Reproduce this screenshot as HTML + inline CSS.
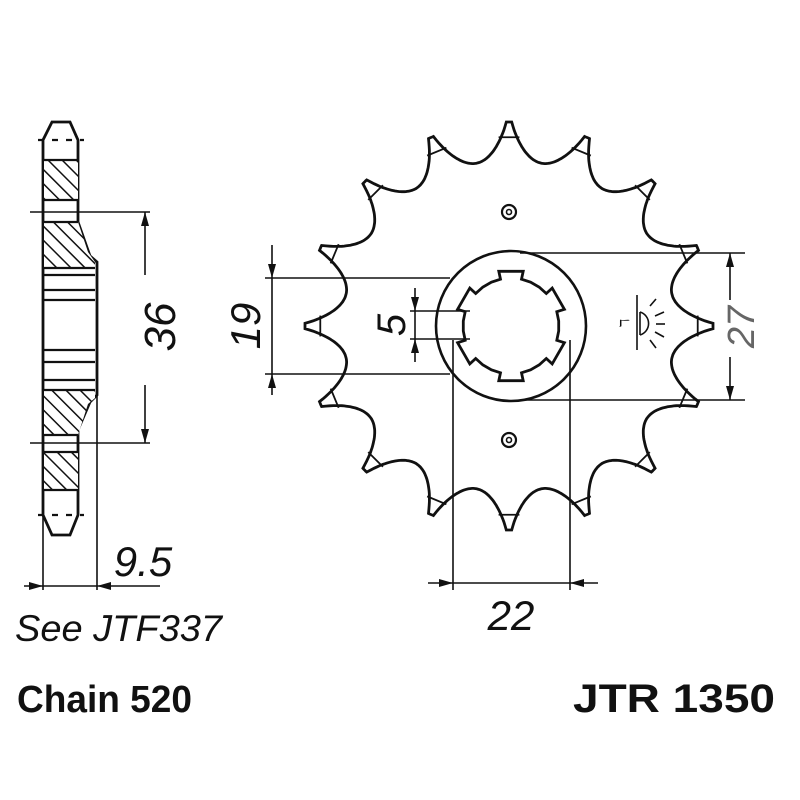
<!DOCTYPE html>
<html><head><meta charset="utf-8"><style>
html,body{margin:0;padding:0;background:#fff}
svg{display:block}
text{font-family:"Liberation Sans",sans-serif}
</style></head><body>
<svg id="s" width="800" height="800" viewBox="0 0 800 800" xmlns="http://www.w3.org/2000/svg">
<defs>
<pattern id="h" width="10" height="10" patternUnits="userSpaceOnUse" patternTransform="rotate(-45)">
<rect width="10" height="10" fill="#fff"/><line x1="0" y1="0" x2="0" y2="10" stroke="#111" stroke-width="3"/></pattern>
</defs>
<g fill="none" stroke="#111" stroke-width="2.2">
<!-- side view -->
<path d="M43 140 L52 122 L70 122 L78 140 L78 222 L90 256 L97 262 L97 395 L90 402 L78 430 L78 515 L70 535 L52 535 L43 515 Z" stroke-width="2.8"/>
<rect x="44" y="160" width="34" height="40" fill="url(#h)" stroke="none"/>
<path d="M44 222 L78 222 L88 252 L95 262 L95 268 L44 268 Z" fill="url(#h)" stroke="none"/>
<path d="M44 390 L95 390 L95 398 L88 404 L78 435 L44 435 Z" fill="url(#h)" stroke="none"/>
<rect x="44" y="452" width="34" height="38" fill="url(#h)" stroke="none"/>
<line x1="44" y1="160" x2="78" y2="160"/><line x1="44" y1="200" x2="78" y2="200"/>
<line x1="44" y1="222" x2="78" y2="222"/><line x1="44" y1="268" x2="95" y2="268"/>
<line x1="44" y1="275" x2="95" y2="275"/><line x1="44" y1="290" x2="95" y2="290"/>
<line x1="44" y1="300" x2="95" y2="300"/><line x1="44" y1="350" x2="95" y2="350"/>
<line x1="44" y1="362" x2="95" y2="362"/><line x1="44" y1="380" x2="95" y2="380"/>
<line x1="44" y1="390" x2="95" y2="390"/><line x1="44" y1="435" x2="78" y2="435"/>
<line x1="44" y1="452" x2="78" y2="452"/><line x1="44" y1="490" x2="78" y2="490"/>
<line x1="38" y1="140" x2="84" y2="140" stroke-dasharray="6 8"/>
<line x1="38" y1="515" x2="84" y2="515" stroke-dasharray="6 8"/>
<line x1="97" y1="262" x2="97" y2="590" stroke-width="1.6"/>
<line x1="43" y1="515" x2="43" y2="590" stroke-width="1.6"/>
<line x1="30" y1="212" x2="150" y2="212" stroke-width="1.6"/>
<line x1="30" y1="443" x2="150" y2="443" stroke-width="1.6"/>
<line x1="145" y1="212" x2="145" y2="275" stroke-width="1.6"/>
<line x1="145" y1="385" x2="145" y2="443" stroke-width="1.6"/>
<line x1="24" y1="586" x2="160" y2="586" stroke-width="1.6"/>
<line x1="265" y1="278" x2="450" y2="278" stroke-width="1.6"/>
<line x1="265" y1="374" x2="450" y2="374" stroke-width="1.6"/>
<line x1="272" y1="245" x2="272" y2="395" stroke-width="1.6"/>
<line x1="410" y1="311" x2="470" y2="311" stroke-width="1.6"/>
<line x1="410" y1="339" x2="470" y2="339" stroke-width="1.6"/>
<line x1="415" y1="288" x2="415" y2="362" stroke-width="1.6"/>
<line x1="520" y1="253" x2="745" y2="253" stroke-width="1.6"/>
<line x1="520" y1="400" x2="745" y2="400" stroke-width="1.6"/>
<line x1="730" y1="253" x2="730" y2="300" stroke-width="1.6"/>
<line x1="730" y1="357" x2="730" y2="400" stroke-width="1.6"/>
<line x1="453" y1="340" x2="453" y2="590" stroke-width="1.6"/>
<line x1="570" y1="340" x2="570" y2="590" stroke-width="1.6"/>
<line x1="428" y1="583" x2="598" y2="583" stroke-width="1.6"/>
<path id="sp" stroke-width="2.8"/>
<g id="tips" stroke-width="1.8"></g>
<circle cx="511" cy="326" r="75" stroke-width="2.6"/>
<path id="spl" stroke-width="2.8"/>
<circle cx="509" cy="212" r="7" stroke-width="2.2"/><circle cx="509" cy="212" r="2.5" stroke-width="1.6"/>
<circle cx="509" cy="440" r="7" stroke-width="2.2"/><circle cx="509" cy="440" r="2.5" stroke-width="1.6"/>
<g stroke-width="1.6">
<line x1="637" y1="295" x2="637" y2="350"/><line x1="640" y1="312" x2="640" y2="335"/>
<path d="M640 312 A12 12 0 0 1 640 335"/>
<line x1="650" y1="306" x2="656" y2="299"/><line x1="655" y1="316" x2="664" y2="312"/>
<line x1="656" y1="324" x2="665" y2="324"/><line x1="655" y1="332" x2="664" y2="337"/>
<line x1="650" y1="340" x2="656" y2="348"/>
</g>
</g>
<g fill="#111">
<path d="M145 212 l-4 14 l8 0 Z"/><path d="M145 443 l-4 -14 l8 0 Z"/>
<path d="M43 586 l-14 -4 l0 8 Z"/><path d="M97 586 l14 -4 l0 8 Z"/>
<path d="M272 278 l-4 -14 l8 0 Z"/><path d="M272 374 l-4 14 l8 0 Z"/>
<path d="M415 311 l-4 -14 l8 0 Z"/><path d="M415 339 l-4 14 l8 0 Z"/>
<path d="M730 253 l-4 14 l8 0 Z"/><path d="M730 400 l-4 -14 l8 0 Z"/>
<path d="M453 583 l-14 -4 l0 8 Z"/><path d="M570 583 l14 -4 l0 8 Z"/>
</g>
<g fill="#111" font-family="Liberation Serif,serif" font-style="italic">
<text transform="translate(175,327) rotate(-90)" text-anchor="middle" font-size="44">36</text>
<text transform="translate(260,326) rotate(-90)" text-anchor="middle" font-size="42">19</text>
<text transform="translate(405,325) rotate(-90)" text-anchor="middle" font-size="40">5</text>
<text transform="translate(754,327) rotate(-90)" text-anchor="middle" font-family="Liberation Sans,sans-serif" font-size="38" fill="#666">27</text>
<text transform="translate(629,323) rotate(-90)" text-anchor="middle" font-style="normal" font-size="13">ℸ</text>
</g>
<g fill="#111">
<text x="143" y="576" text-anchor="middle" font-size="42" font-style="italic">9.5</text>
<text x="511" y="630" text-anchor="middle" font-size="42" font-style="italic">22</text>
<text x="15" y="641" font-size="37" font-style="italic" textLength="207" lengthAdjust="spacingAndGlyphs">See JTF337</text>
<text x="17" y="712" font-size="38" font-weight="bold" textLength="175" lengthAdjust="spacingAndGlyphs">Chain 520</text>
<text x="573" y="712" font-size="40" font-weight="bold" textLength="202" lengthAdjust="spacingAndGlyphs">JTR 1350</text>
</g>
</svg>
<script>
(function(){
var cx=509,cy=326,R=204,Rr=166,H=R-Rr,N=16,half=Math.PI/N;
var pts=[],tips='';
for(var k=0;k<N;k++){
 var c=-Math.PI/2+k*2*half;
 for(var i=0;i<=60;i++){
  var phi=-half+2*half*i/60;
  var u=Math.abs(phi)/half; var s=1-u; if(s>0.93)s=0.93;
  var r=Rr+H*(1-Math.sqrt(1-s*s))/(1-Math.sqrt(1-0.93*0.93));
  var a=c+phi; pts.push((cx+r*Math.cos(a)).toFixed(1)+','+(cy+r*Math.sin(a)).toFixed(1));
 }
 var rb=R-15, w=0.055;
 tips+='<line x1="'+(cx+rb*Math.cos(c-w))+'" y1="'+(cy+rb*Math.sin(c-w))+'" x2="'+(cx+rb*Math.cos(c+w))+'" y2="'+(cy+rb*Math.sin(c+w))+'"/>';
}
document.getElementById('sp').setAttribute('d','M'+pts.join(' L')+' Z');
document.getElementById('tips').innerHTML=tips;
var sx=511,sy=326,p=[];
for(var j=0;j<6;j++){
 var b=j*Math.PI/3+Math.PI/6;
 var a1=b-0.42,a2=b-0.22,a3=b+0.22,a4=b+0.42;
 [[a1,48],[a2,48],[a2,56],[a3,56],[a3,48],[a4,48]].forEach(function(q){p.push((sx+q[1]*Math.cos(q[0])).toFixed(1)+','+(sy+q[1]*Math.sin(q[0])).toFixed(1));});
}
document.getElementById('spl').setAttribute('d','M'+p.join(' L')+' Z');
})();
</script>
</body></html>
